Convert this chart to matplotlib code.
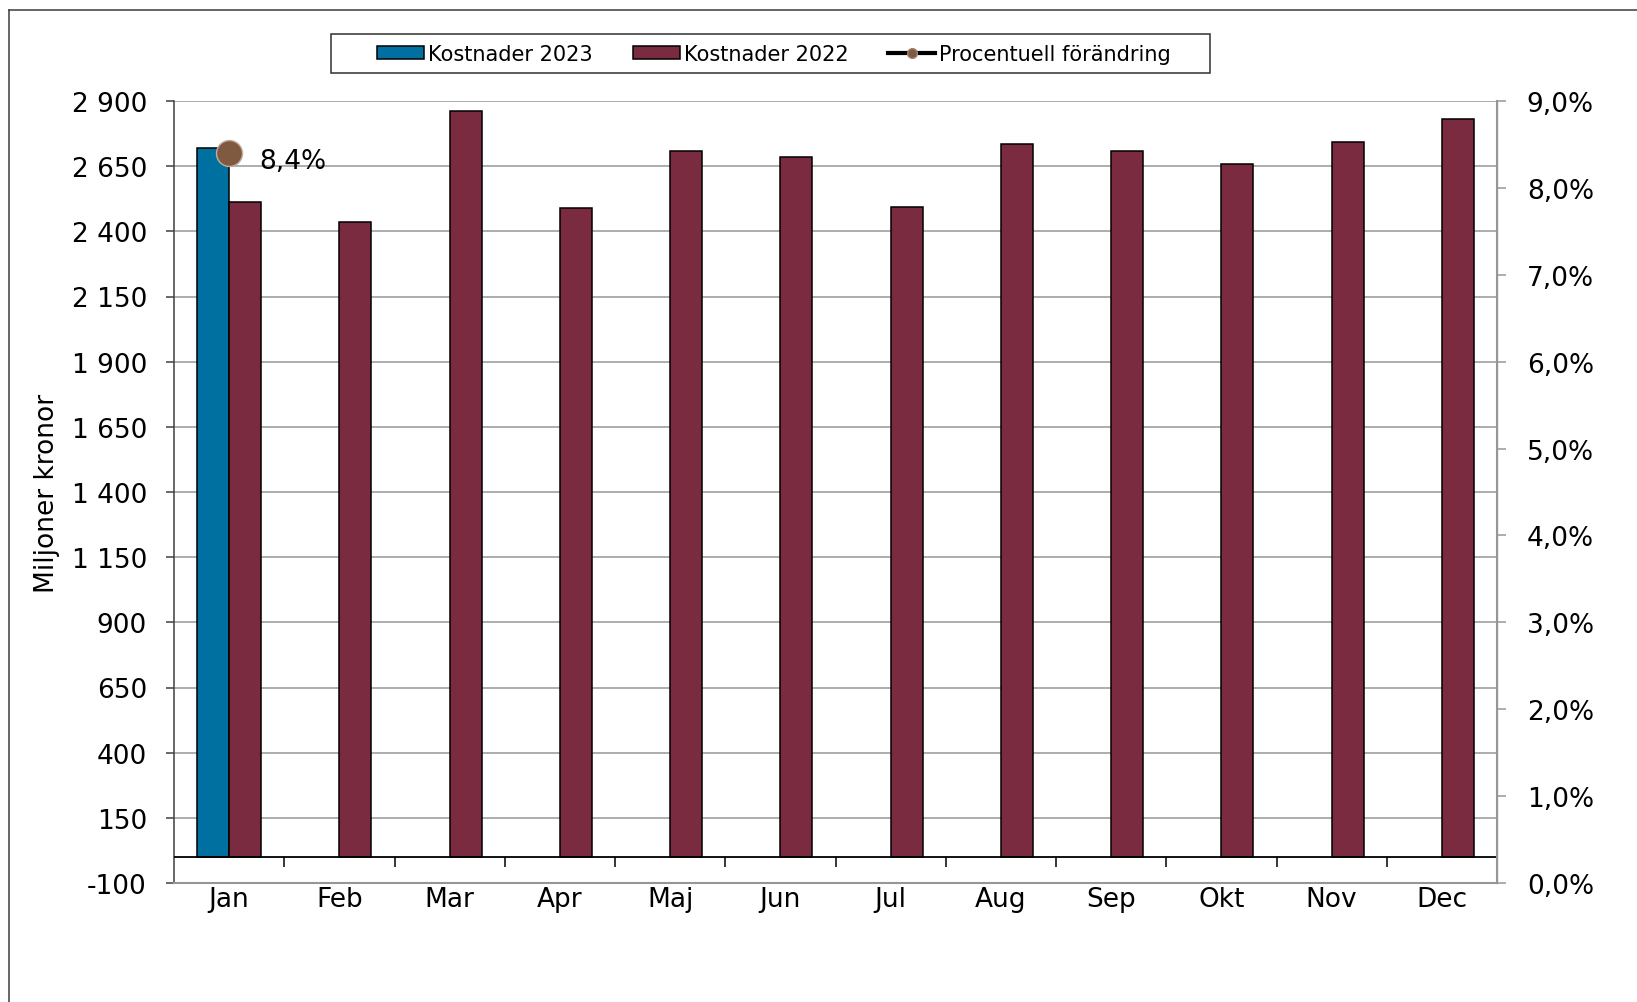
import numpy as np
import matplotlib
matplotlib.use("Agg")
import matplotlib.pyplot as plt
from matplotlib.patches import Patch, Rectangle
from matplotlib.lines import Line2D

# Monthly costs, millions SEK
months = ["Jan", "Feb", "Mar", "Apr", "Maj", "Jun", "Jul", "Aug", "Sep", "Okt", "Nov", "Dec"]
cost_2023 = [2720, np.nan, np.nan, np.nan, np.nan, np.nan, np.nan, np.nan, np.nan, np.nan, np.nan, np.nan]
cost_2022 = [2512, 2436, 2860, 2488, 2708, 2684, 2492, 2736, 2708, 2660, 2744, 2832]
pct_change = [8.4, np.nan, np.nan, np.nan, np.nan, np.nan, np.nan, np.nan, np.nan, np.nan, np.nan, np.nan]

left_ticks = np.arange(-100, 2901, 250)
right_ticks = np.arange(0, 10, 1)

blue = "#0070A0"
maroon = "#7B2B40"
brown = "#7F5A40"

plt.rcParams["font.family"] = "DejaVu Sans"

fig = plt.figure(figsize=(16.37, 10.03), dpi=100)
W, H = 1637, 1003
ax = fig.add_axes([174 / W, 1 - 884 / H, (1497 - 174) / W, (884 - 102) / H])
ax2 = ax.twinx()

x = np.arange(len(months))
bw = 0.29
ax.bar(x - bw, cost_2023, width=bw, align="edge", color=blue, edgecolor="black", linewidth=1.1, zorder=3)
ax.bar(x, cost_2022, width=bw, align="edge", color=maroon, edgecolor="black", linewidth=1.1, zorder=3)

ax.set_ylim(-100, 2900)
ax.set_xlim(-0.5, len(months) - 0.5)
ax.set_yticks(left_ticks)
ax.set_yticklabels([f"{v:,}".replace(",", " ") for v in left_ticks])
ax.yaxis.grid(True, color="#A0A0A0", linewidth=1.2, zorder=0)
ax.set_axisbelow(True)

# zero line with category separators
ax.axhline(0, color="black", linewidth=1.3, zorder=4)
ax.vlines(np.arange(0.5, len(months) - 0.5, 1), -38, 0, color="black", linewidth=1.1, zorder=4)

ax.set_xticks(x)
ax.set_xticklabels(months)
ax.tick_params(axis="x", length=0, pad=2, labelsize=19)
ax.tick_params(axis="y", length=5.8, pad=13.7, labelsize=19, color="#404040", width=1.1)

ax.set_ylabel("Miljoner kronor", fontsize=19)
ax.yaxis.set_label_coords(-0.086, 0.5)

ax.spines["top"].set_visible(False)
ax2.spines["top"].set_visible(False)
ax.spines["left"].set_color("#404040")
ax.spines["left"].set_linewidth(1.1)
ax.spines["bottom"].set_color("#969696")
ax.spines["bottom"].set_linewidth(1.5)
ax2.spines["right"].set_color("#969696")
ax2.spines["right"].set_linewidth(1.5)
ax2.spines["left"].set_visible(False)
ax2.spines["bottom"].set_visible(False)

# percent change on right axis
ax2.set_ylim(0, 9)
ax2.set_yticks(right_ticks)
ax2.set_yticklabels([f"{v:.1f}%".replace(".", ",") for v in right_ticks])
ax2.tick_params(axis="y", length=6.5, pad=15, labelsize=19, color="#969696", width=1.1)
ax2.plot(x, pct_change, color="black", linewidth=3, marker="o", markersize=18.7,
         markerfacecolor=brown, markeredgecolor="#C4AC9C", markeredgewidth=1, zorder=5)
for xi, p in zip(x, pct_change):
    if not np.isnan(p):
        ax2.annotate(f"{p:.1f}%".replace(".", ","), (xi, p), xytext=(30, -8),
                     textcoords="offset pixels", ha="left", va="center", fontsize=19)

# legend with its own frame
fig.patches.append(Rectangle((331 / W, 1 - 74 / H), (1210 - 331) / W, 39.5 / H,
                             transform=fig.transFigure, fill=False, edgecolor="#303030",
                             linewidth=1.1))
handles = [
    Patch(facecolor=blue, edgecolor="black", linewidth=1.1),
    Patch(facecolor=maroon, edgecolor="black", linewidth=1.1),
    Line2D([], [], color="black", linewidth=3, marker="o", markersize=7,
           markerfacecolor=brown, markeredgecolor="#A08070"),
]
labels = ["Kostnader 2023", "Kostnader 2022", "Procentuell förändring"]
fig.legend(handles, labels, loc="center", bbox_to_anchor=(774 / W, 1 - 55 / H), ncol=3,
           frameon=False, fontsize=15, handlelength=2.26, handleheight=0.6,
           handletextpad=0.2, columnspacing=1.9, borderpad=0)

# outer chart frame (top and left edges visible)
fig.add_artist(Line2D([9 / W, 9 / W], [0, 1 - 11 / H], color="#3C3C3C", linewidth=1.1,
                      transform=fig.transFigure))
fig.add_artist(Line2D([9 / W, 1], [1 - 11 / H, 1 - 11 / H], color="#3C3C3C", linewidth=1.1,
                      transform=fig.transFigure))

fig.savefig("out.png", dpi=100)
